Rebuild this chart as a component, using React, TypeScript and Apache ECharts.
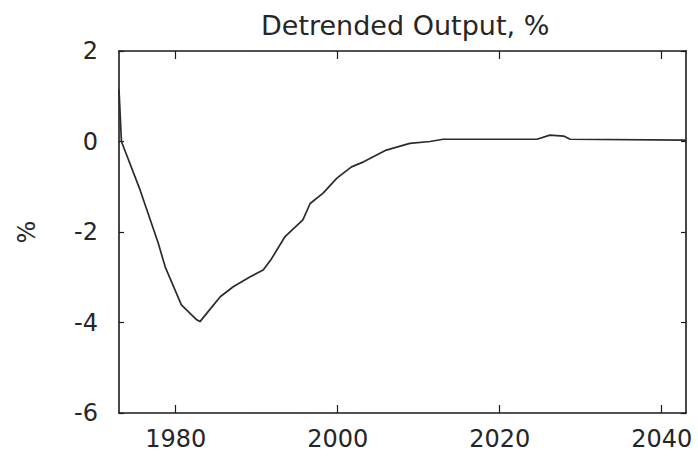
import React, { useEffect, useRef } from "react";
import * as echarts from "echarts";

const years = [
  1973, 1973.3, 1975.6, 1977.85, 1978.7, 1980.7, 1982.6, 1983.0, 1984.0, 1985.5,
  1987.1, 1989.2, 1990.8, 1991.8, 1993.5, 1995.7, 1996.6, 1998.2, 1999.9, 2001.7,
  2003.2, 2006.0, 2008.9, 2011.4, 2013.0, 2024.6, 2026.2, 2027.9, 2028.7, 2043,
];
const outputGap = [
  1.15, 0, -1.07, -2.25, -2.77, -3.61, -3.94, -3.98, -3.76, -3.43,
  -3.21, -2.99, -2.84, -2.6, -2.1, -1.73, -1.37, -1.14, -0.81, -0.56,
  -0.45, -0.19, -0.04, 0.0, 0.05, 0.05, 0.14, 0.12, 0.05, 0.03,
];
const xTicks = [1980, 2000, 2020, 2040];
const yTicks = [2, 0, -2, -4, -6];

const FONT = "DejaVu Sans";
const TEXT = "#262626";
const AXIS = "#1a1a1a";

export default function App() {
  const ref = useRef<HTMLDivElement>(null);
  useEffect(() => {
    if (!ref.current) return;
    const chart = echarts.init(ref.current, undefined, { renderer: "svg" });
    const axisLine = { show: true, onZero: false, lineStyle: { color: AXIS, width: 1.6 } };
    const xBase = {
      type: "value" as const,
      min: 1973,
      max: 2043,
      axisLine,
      splitLine: { show: false },
      axisTick: {
        show: true,
        inside: true,
        length: 8,
        customValues: xTicks,
        lineStyle: { color: AXIS, width: 1.2 },
      },
    };
    const yBase = {
      type: "value" as const,
      min: Math.min(...yTicks),
      max: Math.max(...yTicks),
      interval: 2,
      axisLine,
      splitLine: { show: false },
      axisTick: {
        show: true,
        inside: true,
        length: 5,
        lineStyle: { color: AXIS, width: 1.2 },
      },
    };
    chart.setOption({
      animation: false,
      backgroundColor: "#ffffff",
      title: {
        text: "Detrended Output, %",
        left: 256,
        top: 7,
        textStyle: {
          fontFamily: FONT,
          fontSize: 27,
          fontWeight: "normal",
          color: TEXT,
        },
      },
      grid: { left: 119, right: 12, top: 51, bottom: 43, containLabel: false },
      xAxis: [
        {
          ...xBase,
          position: "bottom",
          axisLabel: {
            show: true,
            customValues: xTicks,
            margin: 14,
            fontFamily: FONT,
            fontSize: 24,
            color: TEXT,
            formatter: (v: number) => String(v),
          },
        },
        {
          ...xBase,
          position: "top",
          axisLabel: { show: false },
        },
      ],
      yAxis: [
        {
          ...yBase,
          position: "left",
          name: "%",
          nameLocation: "middle",
          nameRotate: 90,
          nameGap: 80,
          nameTextStyle: { fontFamily: FONT, fontSize: 24, color: TEXT },
          axisLabel: {
            show: true,
            margin: 21,
            fontFamily: FONT,
            fontSize: 24,
            color: TEXT,
          },
        },
        {
          ...yBase,
          position: "right",
          axisLabel: { show: false },
        },
      ],
      series: [
        {
          type: "line",
          xAxisIndex: 0,
          yAxisIndex: 0,
          data: years.map((y, i) => [y, outputGap[i]]),
          showSymbol: false,
          symbol: "none",
          lineStyle: { color: "#2b2b2b", width: 1.7 },
          clip: true,
        },
      ],
    });
    return () => chart.dispose();
  }, []);
  return (
    <div
      ref={ref}
      style={{ position: "fixed", left: 0, top: 0, width: 698, height: 456 }}
    />
  );
}
